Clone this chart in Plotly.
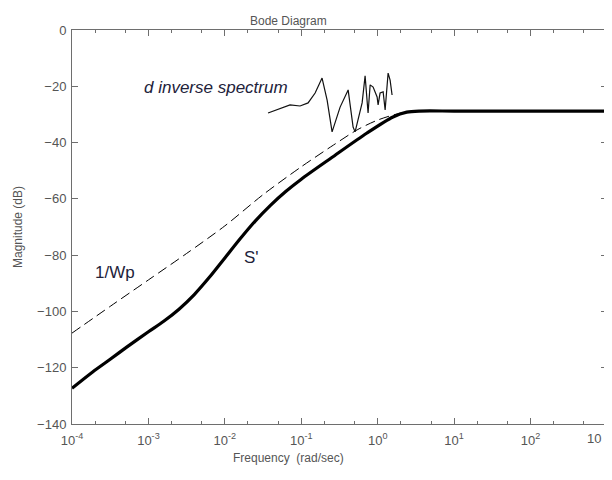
import plotly.graph_objects as go

# S' (thick solid) : log10(frequency) and magnitude in dB
s_logw = [-4.0, -3.73, -3.5, -3.28, -3.0, -2.8, -2.6, -2.4, -2.2, -2.0, -1.8, -1.6, -1.4, -1.2, -1.0,
          -0.6, -0.14, 0.2, 0.38, 0.55, 1.0, 2.0, 3.0]
s_db = [-127.3, -121.5, -117.0, -112.6, -107.2, -103.5, -99.2, -94.0, -87.8, -81.0, -74.2, -67.8, -62.2, -57.3, -53.0,
        -45.3, -36.6, -30.9, -29.2, -28.8, -28.8, -28.8, -28.8]

# 1/Wp (dashed)
wp_logw = [-4.0, -3.5, -3.0, -2.5, -2.0, -1.5, -1.0, -0.58, -0.27, 0.0, 0.29, 0.52, 1.0, 2.0, 3.0]
wp_db = [-107.7, -98.2, -88.8, -79.4, -69.6, -58.5, -48.6, -40.9, -35.5, -32.0, -29.6, -28.9, -28.8, -28.8, -28.8]

# d inverse spectrum (thin)
d_logw = [-1.435, -1.147, -1.016, -0.911, -0.819, -0.728, -0.662, -0.597, -0.492, -0.387, -0.322, -0.296,
          -0.204, -0.165, -0.126, -0.099, -0.060, -0.008, 0.005, 0.031, 0.071, 0.097, 0.136, 0.162, 0.188]
d_db = [-29.5, -26.6, -27.0, -25.9, -22.4, -17.1, -24.9, -36.2, -27.4, -21.3, -34.5, -36.2,
        -25.9, -16.3, -29.5, -19.5, -20.3, -23.8, -26.6, -22.4, -22.0, -28.4, -15.3, -17.8, -23.1]

x_tickvals = [1e-4, 1e-3, 1e-2, 1e-1, 1e0, 1e1, 1e2, 1e3]
# the last label is cut at the window edge in the original: only "10" is visible
x_ticktext = ["10<sup>-4</sup>", "10<sup>-3</sup>", "10<sup>-2</sup>", "10<sup>-1</sup>",
              "10<sup>0</sup>", "10<sup>1</sup>", "10<sup>2</sup>", ""]
last_label = "10"
y_tickvals = [0, -20, -40, -60, -80, -100, -120, -140]

to_w = lambda arr: [10 ** v for v in arr]

fig = go.Figure()
fig.add_trace(go.Scatter(x=to_w(wp_logw), y=wp_db, mode="lines",
                         line=dict(color="black", width=1, dash="10px,5px", shape="spline", smoothing=0.8),
                         hoverinfo="skip"))
fig.add_trace(go.Scatter(x=to_w(d_logw), y=d_db, mode="lines",
                         line=dict(color="#111111", width=1.2), hoverinfo="skip"))
fig.add_trace(go.Scatter(x=to_w(s_logw), y=s_db, mode="lines",
                         line=dict(color="black", width=3.2, shape="spline", smoothing=0.8),
                         hoverinfo="skip"))

axis_col = "#6e6e6e"
text_col = "#555555"
fam = "Liberation Sans, Arial"
ann_col = "#22223a"

# page body has an 8px margin, so the figure is sized to fit the 612x480 window
fig.update_layout(
    width=604, height=472,
    margin=dict(l=64, r=5, t=22, b=56),
    paper_bgcolor="white", plot_bgcolor="white",
    showlegend=False,
    font=dict(family=fam, size=12, color=text_col),
    xaxis=dict(type="log", range=[-4, 3], tickvals=x_tickvals, ticktext=x_ticktext,
               ticks="inside", ticklen=6, tickcolor=axis_col, showline=True, linecolor=axis_col,
               linewidth=1, mirror="ticks", showgrid=False, zeroline=False, ticklabelstandoff=4,
               minor=dict(ticks="inside", ticklen=3, tickcolor=axis_col, showgrid=False),
               tickfont=dict(family=fam, size=13, color=text_col)),
    yaxis=dict(range=[-140, 0], tickvals=y_tickvals, ticks="inside", ticklen=6, tickcolor=axis_col,
               showline=True, linecolor=axis_col, linewidth=1, mirror="ticks", showgrid=False,
               zeroline=False, ticklabelstandoff=2, tickfont=dict(family=fam, size=13, color=text_col)),
    annotations=[
        dict(text="Bode Diagram", xref="paper", yref="paper", x=(288 - 72) / 535, y=1 + 18 / 394,
             xanchor="center", showarrow=False, font=dict(family=fam, size=12, color=text_col)),
        dict(text="Frequency  (rad/sec)", xref="paper", yref="paper", x=(288 - 72) / 535, y=-43 / 394,
             xanchor="center", showarrow=False, font=dict(family=fam, size=12, color=text_col)),
        dict(text="Magnitude (dB)", xref="paper", yref="paper", x=-54 / 535, y=0.5, textangle=-90,
             xanchor="center", showarrow=False, font=dict(family=fam, size=12, color=text_col)),
        dict(text=last_label, xref="paper", yref="paper", x=(603 - 72) / 535, y=-14 / 394,
             xanchor="right", yanchor="middle", showarrow=False,
             font=dict(family=fam, size=13, color=text_col)),
        dict(text="<i>d inverse spectrum</i>", x=-3.09, y=-20.6, xref="x", yref="y", xanchor="left",
             showarrow=False, font=dict(family=fam, size=17, color=ann_col)),
        dict(text="1/Wp", x=-3.44, y=-86.0, xref="x", yref="y", xanchor="center",
             showarrow=False, font=dict(family=fam, size=17, color=ann_col)),
        dict(text="S'", x=-1.65, y=-81.0, xref="x", yref="y", xanchor="center",
             showarrow=False, font=dict(family=fam, size=17, color=ann_col)),
    ],
)

fig.write_html("out.html")
